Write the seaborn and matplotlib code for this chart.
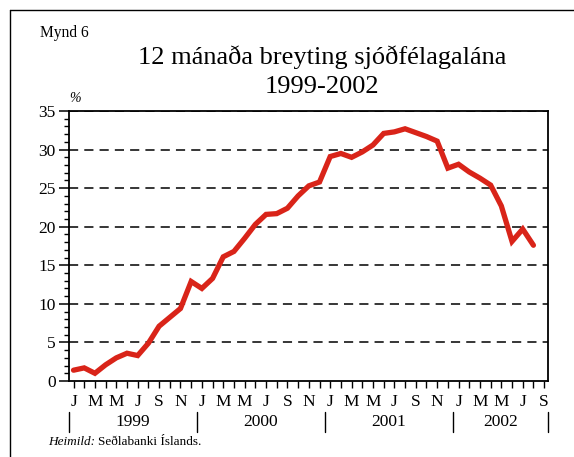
import numpy as np
import pandas as pd
import matplotlib
matplotlib.use("Agg")
import matplotlib.pyplot as plt
import matplotlib.transforms as mtransforms
from matplotlib.lines import Line2D
from matplotlib.ticker import MultipleLocator
import seaborn as sns

# ---- data ----
months = ["J", "F", "M", "A", "M", "J", "J", "Á", "S", "O", "N", "D"]
years = ["1999", "2000", "2001", "2002"]
values = [1.4, 1.7, 1.0, 2.1, 3.0, 3.6, 3.3, 4.9, 7.1, 8.25, 9.4, 12.9,
          12.0, 13.3, 16.1, 16.8, 18.5, 20.3, 21.6, 21.7, 22.4, 24.0, 25.3, 25.8,
          29.1, 29.5, 29.0, 29.7, 30.6, 32.1, 32.3, 32.7, 32.2, 31.7, 31.1, 27.6,
          28.1, 27.1, 26.3, 25.4, 22.7, 18.1, 19.7, 17.6]
n_ticks = 45  # Jan 1999 .. Sep 2002
tick_labels = ["J", "", "M", "", "M", "", "J", "", "S", "", "N", ""] * 3 + ["J", "", "M", "", "M", "", "J", "", "S"]

df = pd.DataFrame({"t": np.arange(len(values)), "v": values})

sns.set_style("ticks")
plt.rcParams["font.family"] = ["Liberation Serif", "DejaVu Serif"]
plt.rcParams["text.color"] = "black"
plt.rcParams["axes.labelcolor"] = "black"
plt.rcParams["xtick.color"] = "black"
plt.rcParams["ytick.color"] = "black"

fig = plt.figure(figsize=(5.74, 4.57), dpi=100)
ax = fig.add_axes([0.121, 0.1663, 0.834, 0.5907])

for yv in range(5, 36, 5):
    ax.axhline(yv, color="black", lw=1.1, ls=(0, (6, 4)), zorder=1)

sns.lineplot(data=df, x="t", y="v", ax=ax, color="#d92419", lw=3.8, zorder=3,
             solid_joinstyle="miter")

ax.set_xlim(-0.38, 44.38)
ax.set_ylim(0, 35)
ax.yaxis.set_major_locator(MultipleLocator(5))
ax.yaxis.set_minor_locator(MultipleLocator(1))
ax.set_xticks(range(n_ticks))
ax.set_xticklabels(tick_labels)
ax.set_xlabel("")
ax.set_ylabel("")
for s in ax.spines.values():
    s.set_visible(True)
    s.set_linewidth(1.3)
    s.set_color("black")
ax.tick_params(axis="y", which="major", length=7, width=1.1, labelsize=12.5, pad=3,
               colors="black", labelcolor="black")
ax.tick_params(axis="y", which="minor", length=3.5, width=1.0, colors="black")
ax.tick_params(axis="x", which="major", length=5, width=1.0, labelsize=12.5, pad=4,
               colors="black", labelcolor="black")

# year labels and separators
trans = mtransforms.blended_transform_factory(ax.transData, ax.transAxes)
seps = [-0.4, 11.5, 23.5, 35.5, 44.4]
for sx in seps:
    ax.add_line(Line2D([sx, sx], [-0.115, -0.19], transform=trans, color="black",
                       lw=1.0, clip_on=False))
for i, yr in enumerate(years):
    cx = (seps[i] + seps[i + 1]) / 2
    ax.text(cx, -0.152, yr, transform=trans, ha="center", va="center", fontsize=12.5,
            color="black")

ax.text(0.012, 1.045, "%", transform=ax.transAxes, fontsize=10, style="italic",
        ha="center", va="center", color="black")

fig.text(40 / 574, 1 - 33 / 457, "Mynd 6", fontsize=11.2, ha="left", va="center",
         color="black")
fig.text(322 / 574, 1 - 57 / 457, "12 mánaða breyting sjóðfélagalána", fontsize=19,
         ha="center", va="center", color="black")
fig.text(322 / 574, 1 - 87 / 457, "1999-2002", fontsize=19, ha="center", va="center",
         color="black")
fig.text(48 / 574, 1 - 442 / 457, "Heimild:", fontsize=9.5, style="italic",
         ha="left", va="center", color="black")
fig.text(98 / 574, 1 - 442 / 457, "Seðlabanki Íslands.", fontsize=9.5,
         ha="left", va="center", color="black")

# figure frame (top and left edges)
fig.add_artist(Line2D([9.5 / 574, 1.0], [1 - 9.5 / 457] * 2, transform=fig.transFigure,
                      color="black", lw=1.0))
fig.add_artist(Line2D([9.5 / 574] * 2, [0, 1 - 9.5 / 457], transform=fig.transFigure,
                      color="black", lw=1.0))

fig.savefig("out.png", dpi=100)
